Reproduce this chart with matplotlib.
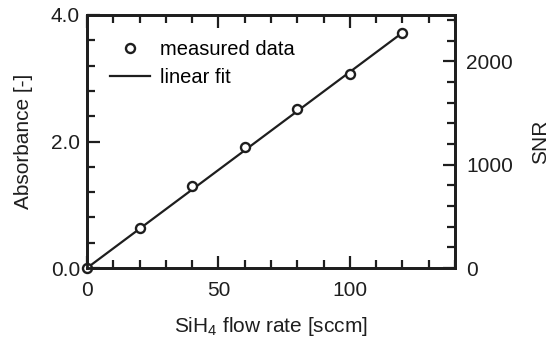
import matplotlib.pyplot as plt
from matplotlib.ticker import MultipleLocator, FormatStrFormatter

plt.rcParams['font.family'] = ['Liberation Sans', 'DejaVu Sans']
plt.rcParams['mathtext.fontset'] = 'custom'
plt.rcParams['mathtext.rm'] = 'Liberation Sans'

flow = [0, 20, 40, 60, 80, 100, 120]
absorbance = [0.0, 0.63, 1.30, 1.91, 2.51, 3.06, 3.72]
fit_x = [0, 120]
fit_y = [0.0, 3.72]

ink = '#1e1e1e'
fs = 15

fig = plt.figure(figsize=(5.54, 3.44), dpi=100)
ax = fig.add_axes([87 / 554, 1 - 268 / 344, (455 - 87) / 554, (268 - 15) / 344])

ax.plot(fit_x, fit_y, color=ink, lw=1.6, label='linear fit', zorder=2)
ax.plot(flow, absorbance, 'o', mfc='white', mec=ink, mew=1.7, ms=6.5,
        label='measured data', zorder=3, clip_on=False)

ax.set_xlim(0, 140)
ax.set_ylim(0, 4.0)
ax.xaxis.set_major_locator(MultipleLocator(50))
ax.xaxis.set_minor_locator(MultipleLocator(10))
ax.yaxis.set_major_locator(MultipleLocator(2.0))
ax.yaxis.set_minor_locator(MultipleLocator(0.4))
ax.yaxis.set_major_formatter(FormatStrFormatter('%.1f'))
ax.tick_params(which='both', direction='in', top=True, right=False, width=1.6,
               labelsize=fs, colors=ink)
ax.tick_params(axis='x', pad=9)
ax.tick_params(axis='y', pad=5)
ax.tick_params(which='major', length=9)
ax.tick_params(which='minor', length=6)
for s in ax.spines.values():
    s.set_linewidth(2)
    s.set_color(ink)

ax.set_xlabel('SiH$_4$ flow rate [sccm]', fontsize=fs, color=ink, labelpad=11)
ax.set_ylabel('Absorbance [-]', fontsize=fs, color=ink, labelpad=13)

ax2 = ax.twinx()
ax2.set_ylim(0, 2450)
ax2.yaxis.set_major_locator(MultipleLocator(1000))
ax2.yaxis.set_minor_locator(MultipleLocator(200))
ax2.tick_params(which='both', direction='in', width=1.6, labelsize=fs,
                colors=ink, pad=8)
ax2.tick_params(which='major', length=9)
ax2.tick_params(which='minor', length=6)
for s in ax2.spines.values():
    s.set_linewidth(2)
    s.set_color(ink)
ax2.set_ylabel('SNR', fontsize=fs, color=ink, labelpad=13)

h, l = ax.get_legend_handles_labels()
ax.legend(h[::-1], l[::-1], loc='upper left', frameon=False, fontsize=14.5,
          handlelength=2.0, handletextpad=0.5, labelspacing=0.45,
          bbox_to_anchor=(0.03, 0.95), borderaxespad=0.2)

fig.savefig('out.png', dpi=100)
